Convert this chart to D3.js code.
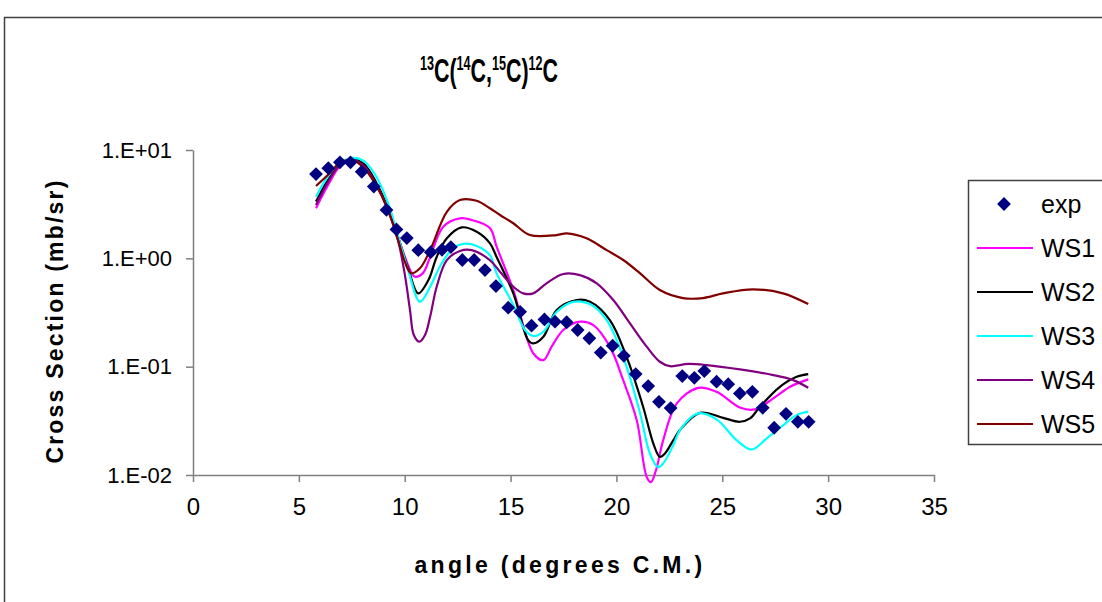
<!DOCTYPE html>
<html>
<head>
<meta charset="utf-8">
<script src="https://cdn.jsdelivr.net/npm/d3@7"></script>
<style>
  body { margin: 0; background: #fff; }
  text { font-family: "Liberation Sans", Arial, sans-serif; }
</style>
</head>
<body>
<div id="chart"></div>
<script>
// measured data (angle in degrees C.M., cross section in mb/sr)
const expAngle = [5.81, 6.39, 6.94, 7.44, 7.97, 8.54, 9.14, 9.61, 10.10, 10.64, 11.23, 11.76, 12.18,
  12.72, 13.28, 13.79, 14.31, 14.89, 15.45, 15.99, 16.60, 17.10, 17.65, 18.17, 18.72, 19.26, 19.82,
  20.35, 20.91, 21.50, 22.01, 22.56, 23.11, 23.68, 24.15, 24.73, 25.28, 25.83, 26.42, 26.91, 27.45,
  28.01, 28.57, 29.08];
const expValue = [6.0, 6.8, 7.7, 7.7, 6.3, 4.6, 2.8, 1.85, 1.54, 1.19, 1.14, 1.2, 1.27,
  0.965, 0.965, 0.78, 0.555, 0.35, 0.321, 0.239, 0.273, 0.26, 0.257, 0.218, 0.183, 0.135, 0.156,
  0.126, 0.0855, 0.0662, 0.0474, 0.0415, 0.0818, 0.0789, 0.091, 0.0726, 0.069, 0.0566, 0.0586, 0.0417, 0.0273,
  0.0367, 0.031, 0.031];

// calculations [angle, value]
const ws1 = [[5.81, 2.9], [6.38, 4.75], [6.94, 7.1], [7.51, 8.1], [8.08, 7.1], [8.64, 4.95], [9.21, 2.8],
  [9.63, 1.71], [10.01, 1.03], [10.30, 0.75], [10.48, 0.676], [10.86, 0.73], [11.20, 1.03], [11.82, 1.96],
  [12.61, 2.34], [13.16, 2.26], [14.02, 1.91], [14.34, 1.28], [15.13, 0.51], [16.07, 0.133], [16.55, 0.115],
  [16.94, 0.153], [17.49, 0.218], [18.28, 0.26], [18.91, 0.242], [19.69, 0.153], [20.32, 0.075], [20.96, 0.032],
  [21.43, 0.0096], [21.63, 0.0086], [21.87, 0.0111], [22.21, 0.021], [22.85, 0.0458], [23.86, 0.0638],
  [24.73, 0.0586], [25.83, 0.042], [26.54, 0.0403], [27.41, 0.0509], [28.20, 0.0652], [29.06, 0.0763]];

const ws2 = [[5.81, 3.34], [6.38, 5.3], [6.94, 7.4], [7.51, 8.3], [8.08, 7.4], [8.64, 5.07], [9.21, 2.91],
  [9.68, 1.57], [10.16, 0.81], [10.64, 0.475], [11.12, 0.63], [11.51, 1.03], [11.99, 1.53], [12.69, 1.93],
  [13.40, 1.76], [14.02, 1.38], [14.34, 1.03], [15.13, 0.475], [15.83, 0.176], [16.07, 0.164], [16.55, 0.189],
  [17.18, 0.333], [18.12, 0.412], [18.75, 0.397], [19.69, 0.269], [20.48, 0.123], [21.26, 0.0427],
  [21.74, 0.0196], [22.05, 0.0147], [22.29, 0.0158], [22.69, 0.021], [23.00, 0.026], [23.94, 0.0375],
  [25.04, 0.0337], [25.83, 0.031], [26.31, 0.0333], [26.78, 0.0427], [27.72, 0.0652], [28.51, 0.0807],
  [29.06, 0.0855]];

const ws3 = [[5.81, 3.71], [6.38, 5.75], [6.94, 7.6], [7.51, 8.44], [8.08, 7.9], [8.64, 5.75], [9.21, 3.25],
  [9.68, 1.61], [10.16, 0.78], [10.72, 0.397], [11.20, 0.547], [11.75, 0.9], [12.29, 1.24], [12.77, 1.36],
  [13.40, 1.30], [14.02, 1.07], [14.34, 0.727], [15.13, 0.371], [15.68, 0.218], [16.07, 0.192], [16.55, 0.21],
  [17.18, 0.321], [17.96, 0.397], [18.75, 0.378], [19.54, 0.269], [20.32, 0.123], [21.12, 0.037],
  [21.58, 0.0158], [21.97, 0.0118], [22.21, 0.0128], [22.69, 0.0189], [23.00, 0.026], [23.86, 0.037],
  [24.73, 0.0326], [25.67, 0.021], [26.39, 0.0172], [27.10, 0.0218], [27.88, 0.0289], [28.51, 0.0357],
  [29.06, 0.0384]];

const ws4 = [[5.81, 3.1], [6.38, 5.07], [6.94, 7.3], [7.51, 8.1], [8.08, 7.1], [8.64, 4.85], [9.21, 2.8],
  [9.68, 1.48], [10.01, 0.70], [10.25, 0.333], [10.43, 0.196], [10.69, 0.17], [10.96, 0.196], [11.20, 0.289],
  [11.51, 0.547], [11.99, 0.964], [12.61, 1.17], [13.16, 1.19], [14.02, 0.964], [14.50, 0.751], [15.13, 0.547],
  [15.60, 0.475], [16.07, 0.475], [16.70, 0.588], [17.49, 0.716], [18.28, 0.70], [19.07, 0.588], [19.85, 0.412],
  [20.64, 0.251], [21.43, 0.153], [22.05, 0.111], [22.53, 0.101], [23.39, 0.106], [24.26, 0.1035],
  [25.83, 0.0944], [27.41, 0.0836], [28.35, 0.0751], [29.06, 0.0638]];

const ws5 = [[5.81, 4.65], [6.38, 5.9], [6.94, 7.6], [7.51, 8.1], [8.08, 6.8], [8.64, 4.75], [9.21, 2.8],
  [9.68, 1.48], [10.01, 0.925], [10.30, 0.73], [10.72, 0.81], [11.20, 1.19], [11.99, 2.69], [12.61, 3.45],
  [13.40, 3.4], [14.02, 2.9], [14.50, 2.51], [15.11, 2.12], [15.91, 1.64], [17.18, 1.64], [17.65, 1.70],
  [18.59, 1.53], [19.54, 1.19], [20.32, 0.965], [21.12, 0.727], [22.05, 0.51], [23.14, 0.43], [24.09, 0.43],
  [25.03, 0.475], [26.45, 0.518], [27.87, 0.475], [29.06, 0.378]];

const seriesNames = ["WS1", "WS2", "WS3", "WS4", "WS5"];
const seriesColors = ["#ff00ff", "#000000", "#00ffff", "#800080", "#800000"];
const xTicks = [0, 5, 10, 15, 20, 25, 30, 35];
const yTicks = [0.01, 0.1, 1, 10];
const yTickLabels = ["1.E-02", "1.E-01", "1.E+00", "1.E+01"];

const W = 1102, H = 602;
const margin = {top: 150, right: 168, bottom: 127, left: 193};
const width = W - margin.left - margin.right,
      height = H - margin.top - margin.bottom;

const svg = d3.select("#chart").append("svg")
  .attr("width", W).attr("height", H);

// outer chart frame
svg.append("rect")
  .attr("x", 4.5).attr("y", 17.5)
  .attr("width", 1200).attr("height", 700)
  .attr("fill", "none").attr("stroke", "#404040").attr("stroke-width", 1.5);

const g = svg.append("g").attr("transform", `translate(${margin.left},${margin.top})`);

const x = d3.scaleLinear().domain([0, 35]).range([0, width]);
const y = d3.scaleLog().domain([0.01, 10]).range([height, 0]);

// axes
const xAxis = g.append("g")
  .attr("transform", `translate(0,${height})`)
  .call(d3.axisBottom(x).tickValues(xTicks).tickSize(7).tickPadding(16).tickSizeOuter(0));
const yAxis = g.append("g")
  .call(d3.axisLeft(y).tickValues(yTicks).tickFormat((d, i) => yTickLabels[i])
    .tickSize(7).tickPadding(14).tickSizeOuter(0));

[xAxis, yAxis].forEach(a => {
  a.select(".domain").attr("stroke", "#808080").attr("stroke-width", 1.5);
  a.selectAll(".tick line").attr("stroke", "#808080").attr("stroke-width", 1.5);
  a.selectAll(".tick text")
    .style("font-family", '"Liberation Sans", Arial, sans-serif')
    .attr("fill", "#000");
});
xAxis.selectAll(".tick text").style("font-size", "24px");
yAxis.selectAll(".tick text").style("font-size", "22px");

// lines
const line = d3.line()
  .x(d => x(d[0]))
  .y(d => y(d[1]))
  .curve(d3.curveCatmullRom.alpha(0.5));

const allSeries = [ws1, ws2, ws3, ws4, ws5];
g.selectAll(".calc")
  .data(allSeries)
  .join("path")
    .attr("class", "calc")
    .attr("d", d => line(d))
    .attr("fill", "none")
    .attr("stroke", (d, i) => seriesColors[i])
    .attr("stroke-width", 2.2);

// experimental points
const expData = expAngle.map((a, i) => [a, expValue[i]]);
const diamond = d3.symbol().type(d3.symbolSquare).size(95);
g.selectAll(".exp")
  .data(expData)
  .join("path")
    .attr("class", "exp")
    .attr("d", diamond)
    .attr("transform", d => `translate(${x(d[0])},${y(d[1])}) rotate(45)`)
    .attr("fill", "#000080");

// title, condensed bold with superscript mass numbers
const titleParts = [["13", true], ["C(", false], ["14", true], ["C,", false],
                    ["15", true], ["C)", false], ["12", true], ["C", false]];
const title = svg.append("text")
  .attr("transform", "translate(489,82) scale(0.63,1)")
  .attr("text-anchor", "middle")
  .style("font-weight", "bold");
titleParts.forEach(([t, sup]) => {
  title.append("tspan")
    .attr("dy", sup ? -12 : 12)
    .style("font-size", sup ? "20px" : "34px")
    .text(t);
});

// axis titles
svg.append("text")
  .attr("x", 560).attr("y", 573)
  .attr("text-anchor", "middle")
  .style("font-weight", "bold").style("font-size", "23px")
  .style("letter-spacing", "3.3px")
  .text("angle (degrees C.M.)");

svg.append("text")
  .attr("transform", "translate(63,321) rotate(-90)")
  .attr("text-anchor", "middle")
  .style("font-weight", "bold").style("font-size", "23px")
  .style("letter-spacing", "2.2px")
  .text("Cross Section (mb/sr)");

// legend
const legend = svg.append("g");
legend.append("rect")
  .attr("x", 968.5).attr("y", 180.5)
  .attr("width", 200).attr("height", 264)
  .attr("fill", "#fff").attr("stroke", "#404040").attr("stroke-width", 1.5);
legend.append("path")
  .attr("d", diamond)
  .attr("transform", "translate(1004,204) rotate(45)")
  .attr("fill", "#000080");
legend.append("text")
  .attr("x", 1041).attr("y", 204).attr("dy", "0.35em")
  .style("font-size", "25px").text("exp");
seriesNames.forEach((name, i) => {
  const yy = 248 + i * 44;
  legend.append("line")
    .attr("x1", 977).attr("x2", 1033).attr("y1", yy).attr("y2", yy)
    .attr("stroke", seriesColors[i]).attr("stroke-width", 2.2);
  legend.append("text")
    .attr("x", 1041).attr("y", yy).attr("dy", "0.35em")
    .style("font-size", "25px").text(name);
});
</script>
</body>
</html>
